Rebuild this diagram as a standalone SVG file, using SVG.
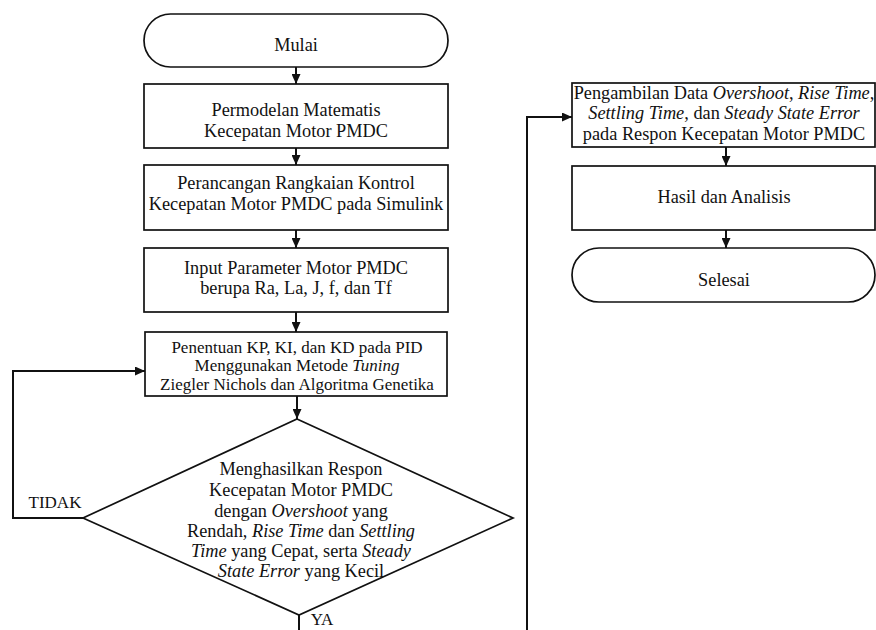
<svg xmlns="http://www.w3.org/2000/svg" width="876" height="630" viewBox="0 0 876 630">
<defs>
<style>
.s{fill:#fff;stroke:#111;stroke-width:1.7}
.c{fill:none;stroke:#111;stroke-width:2}
.t text{fill:#111;text-anchor:middle}
.f18{font-size:18.3px}
.f17{font-size:17px}
.i{font-style:italic}
</style>
<marker id="ah" markerUnits="userSpaceOnUse" markerWidth="10" markerHeight="9" refX="10" refY="4.5" orient="auto">
<path d="M0,0 L10,4.5 L0,9 z" fill="#111"/>
</marker>
</defs>
<rect width="876" height="630" fill="#fff"/>
<g class="t" font-family="'Liberation Serif', 'Times New Roman', 'DejaVu Serif', serif">
<g id="connectors">
<path class="c" d="M296,67 V84" marker-end="url(#ah)"/>
<path class="c" d="M296,148 V165" marker-end="url(#ah)"/>
<path class="c" d="M296,230 V248" marker-end="url(#ah)"/>
<path class="c" d="M296,312 V332" marker-end="url(#ah)"/>
<path class="c" d="M297,396 V419" marker-end="url(#ah)"/>
<path class="c" d="M84,518 H13 V371 H145" marker-end="url(#ah)"/>
<path class="c" d="M299,615 V632"/>
<path class="c" d="M527,632 V117 H572" marker-end="url(#ah)"/>
<path class="c" d="M726,147 V166" marker-end="url(#ah)"/>
<path class="c" d="M726,230 V248" marker-end="url(#ah)"/>
<text class="f17" x="55" y="508">TIDAK</text>
<text class="f17" x="322" y="625">YA</text>
</g>
<g id="mulai">
<rect class="s" x="144" y="14" width="304" height="53" rx="26.5"/>
<text class="f18" x="296" y="51">Mulai</text>
</g>
<g id="permodelan">
<rect class="s" x="144" y="84" width="304" height="64"/>
<text class="f18" x="296" y="116">Permodelan Matematis</text>
<text class="f18" x="296" y="137">Kecepatan Motor PMDC</text>
</g>
<g id="perancangan">
<rect class="s" x="144" y="165" width="304" height="65"/>
<text class="f18" x="296" y="189">Perancangan Rangkaian Kontrol</text>
<text class="f18" x="296" y="210">Kecepatan Motor PMDC pada Simulink</text>
</g>
<g id="input">
<rect class="s" x="144" y="248" width="304" height="64"/>
<text class="f18" x="296" y="274">Input Parameter Motor PMDC</text>
<text class="f18" x="296" y="294">berupa Ra, La, J, f, dan Tf</text>
</g>
<g id="penentuan">
<rect class="s" x="145" y="332" width="302" height="64"/>
<text class="f17" x="297" y="353">Penentuan KP, KI, dan KD pada PID</text>
<text class="f17" x="297" y="371">Menggunakan Metode <tspan class="i">Tuning</tspan></text>
<text class="f17" x="297" y="390">Ziegler Nichols dan Algoritma Genetika</text>
</g>
<g id="keputusan">
<path class="s" d="M297,419 L513,518 L299,615 L83,518 Z"/>
<text class="f18" x="301" y="475">Menghasilkan Respon</text>
<text class="f18" x="301" y="496">Kecepatan Motor PMDC</text>
<text class="f18" x="301" y="517">dengan <tspan class="i">Overshoot</tspan> yang</text>
<text class="f18" x="301" y="537">Rendah, <tspan class="i">Rise Time</tspan> dan <tspan class="i">Settling</tspan></text>
<text class="f18" x="301" y="557"><tspan class="i">Time</tspan> yang Cepat, serta <tspan class="i">Steady</tspan></text>
<text class="f18" x="301" y="577"><tspan class="i">State Error</tspan> yang Kecil</text>
</g>
<g id="pengambilan">
<rect class="s" x="572" y="83" width="303" height="64"/>
<text class="f18" x="724" y="99">Pengambilan Data <tspan class="i">Overshoot</tspan>, <tspan class="i">Rise Time</tspan>,</text>
<text class="f18" x="724" y="119"><tspan class="i">Settling Time</tspan>, dan <tspan class="i">Steady State Error</tspan></text>
<text class="f18" x="724" y="140">pada Respon Kecepatan Motor PMDC</text>
</g>
<g id="hasil">
<rect class="s" x="572" y="166" width="303" height="64"/>
<text class="f18" x="724" y="203">Hasil dan Analisis</text>
</g>
<g id="selesai">
<rect class="s" x="572" y="248" width="303" height="54" rx="27"/>
<text class="f18" x="724" y="286">Selesai</text>
</g>
</g>
</svg>
